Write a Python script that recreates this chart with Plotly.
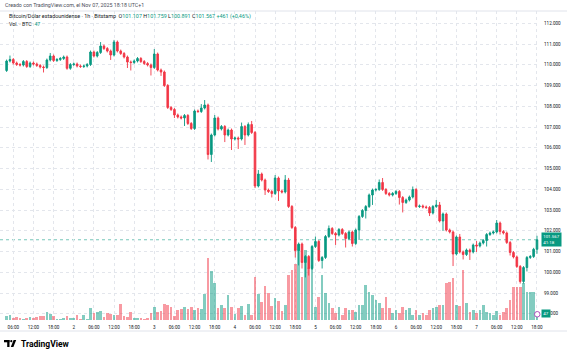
import plotly.graph_objects as go
import pandas as pd

# ---------------- data ----------------
times = pd.date_range("2025-11-01 04:00", periods=159, freq="h")

opens = [
    109725, 110183, 110255, 110086, 110014, 109990, 110159, 109918, 110086, 110038,
    109966, 109894, 109870, 110231, 110424, 110207, 110255, 110303, 110376, 109831,
    110014, 110038, 109942, 109918, 109942, 110014, 110617, 110424, 110593, 110906,
    110785, 110665, 110472, 111099, 110665, 110544, 110376, 110135, 110111, 110183,
    110303, 110159, 110062, 109990, 109870, 110520, 109749, 109653, 109002, 107942,
    107845, 107580, 107484, 107435, 107556, 107170, 106929, 107773, 107749, 107917,
    108062, 105676, 106616, 107435, 106905, 107026, 106616, 106857, 106423, 106471,
    106423, 107026, 106616, 107122, 106737, 104158, 104736, 104447, 103965, 103893,
    103796, 104543, 103917, 103869, 104447, 103170, 102158, 101049, 101362, 100471,
    100760, 100181, 101242, 101483, 100567, 100712, 101724, 102109, 101868, 101796,
    102061, 101868, 101627, 101941, 101386, 102037, 102688, 102977, 103170, 103724,
    103965, 103989, 104327, 103989, 103796, 103724, 103796, 103893, 103604, 103363,
    103483, 103628, 103989, 103170, 103194, 103146, 103122, 102856, 103170, 103242,
    102471, 102808, 102037, 101941, 100880, 101700, 100977, 100856, 101073, 100977,
    101314, 101266, 101410, 101531, 101820, 101892, 101941, 102374, 101965, 101892,
    101434, 100953, 100736, 100278, 99555, 100229, 100712, 100760, 101107,
]
highs = [
    110253, 110445, 110325, 110156, 110084, 110229, 110229, 110156, 110156, 110108,
    110036, 109964, 110301, 110569, 110494, 110325, 110373, 110446, 110446, 110084,
    110108, 110108, 110012, 110012, 110084, 110687, 110687, 110663, 111096, 110976,
    110855, 110735, 111199, 111169, 110735, 110614, 110446, 110205, 110253, 110373,
    110373, 110229, 110132, 110060, 110760, 110590, 109819, 109723, 109072, 108012,
    107915, 107650, 107554, 107626, 107626, 107240, 107843, 107843, 108107, 108302,
    108132, 106686, 107580, 107505, 107096, 107096, 106927, 106927, 106541, 106541,
    107216, 107096, 107222, 107292, 106807, 104926, 104806, 104517, 104035, 103963,
    104688, 104613, 103987, 104687, 104547, 103240, 102228, 101432, 101432, 100830,
    100830, 101312, 101723, 101553, 100782, 101794, 102254, 102179, 101938, 102131,
    102131, 101938, 102011, 102011, 102107, 102758, 103047, 103240, 103794, 104035,
    104059, 104472, 104542, 104059, 103866, 103866, 103963, 103963, 103674, 103553,
    103698, 104134, 104059, 103264, 103264, 103216, 103192, 103240, 103482, 103387,
    102878, 102878, 102107, 102011, 101770, 101845, 101047, 101143, 101143, 101384,
    101504, 101480, 101601, 101890, 101962, 102011, 102519, 102444, 102035, 101962,
    101504, 101023, 100806, 100348, 100299, 100782, 100830, 101177, 101759,
]
lows = [
    109655, 110113, 110016, 109944, 109920, 109920, 109848, 109848, 109968, 109896,
    109824, 109630, 109800, 110161, 110137, 110137, 110185, 110233, 109761, 109761,
    109944, 109872, 109848, 109848, 109872, 109944, 110354, 110354, 110523, 110715,
    110595, 110232, 110402, 110595, 110474, 110306, 109845, 109726, 110041, 110113,
    110089, 109992, 109920, 109485, 109800, 109679, 109463, 108932, 107872, 107775,
    107435, 107414, 107365, 107050, 107100, 106859, 106859, 107679, 107679, 107847,
    105436, 105316, 106546, 106835, 106835, 106276, 106546, 105893, 106353, 105943,
    106353, 106136, 106546, 106667, 104058, 104088, 104377, 103725, 103823, 103606,
    103726, 103437, 103799, 103799, 103100, 102088, 100709, 100329, 100181, 99751,
    99841, 100111, 101172, 100497, 100182, 100642, 101654, 101798, 101316, 101726,
    101798, 101192, 101557, 101241, 101316, 101557, 102618, 102592, 103100, 103244,
    103895, 103919, 103919, 103726, 103654, 103654, 103726, 103264, 102883, 103293,
    103413, 103558, 103100, 103100, 103076, 103052, 102711, 102786, 103100, 102401,
    101991, 101967, 101871, 100300, 100810, 100907, 100616, 100786, 100592, 100907,
    100976, 101196, 101340, 101241, 101750, 101822, 101871, 101820, 101822, 101364,
    100808, 100666, 100208, 99455, 99455, 100039, 100642, 100690, 100891,
]
closes = [
    110183, 110255, 110086, 110014, 109990, 110159, 109918, 110086, 110038, 109966,
    109894, 109870, 110231, 110424, 110207, 110255, 110303, 110376, 109831, 110014,
    110038, 109942, 109918, 109942, 110014, 110617, 110424, 110593, 110906, 110785,
    110665, 110472, 111099, 110665, 110544, 110376, 110135, 110111, 110183, 110303,
    110159, 110062, 109990, 109870, 110520, 109749, 109653, 109002, 107942, 107845,
    107580, 107484, 107435, 107556, 107170, 106929, 107773, 107749, 107917, 108062,
    105676, 106616, 107435, 106905, 107026, 106616, 106857, 106423, 106471, 106423,
    107026, 106616, 107122, 106737, 104158, 104736, 104447, 103965, 103893, 103796,
    104543, 103917, 103869, 104447, 103170, 102158, 101049, 101362, 100471, 100760,
    100181, 101242, 101483, 100567, 100712, 101724, 102109, 101868, 101796, 102061,
    101868, 101627, 101941, 101386, 102037, 102688, 102977, 103170, 103724, 103965,
    103989, 104327, 103989, 103796, 103724, 103796, 103893, 103604, 103363, 103483,
    103628, 103989, 103170, 103194, 103146, 103122, 102856, 103170, 103242, 102471,
    102808, 102037, 101941, 100880, 101700, 100977, 100856, 101073, 100977, 101314,
    101266, 101410, 101531, 101820, 101892, 101941, 102374, 101965, 101892, 101434,
    100953, 100736, 100278, 99555, 100229, 100712, 100760, 101107, 101567,
]
volumes = [
    31, 39, 18, 21, 13, 5, 13, 21, 18, 21,
    31, 31, 65, 47, 34, 5, 8, 13, 31, 18,
    18, 37, 8, 37, 10, 91, 57, 60, 73, 26,
    52, 47, 41, 37, 125, 31, 21, 62, 13, 13,
    16, 10, 16, 57, 104, 62, 73, 125, 117, 99,
    31, 78, 83, 104, 83, 99, 78, 91, 83, 203,
    489, 382, 291, 91, 115, 94, 197, 104, 47, 91,
    109, 41, 122, 39, 333, 203, 143, 265, 213, 109,
    169, 151, 70, 117, 351, 390, 437, 585, 335, 546,
    406, 429, 101, 179, 351, 211, 133, 94, 55, 101,
    39, 94, 78, 78, 62, 117, 117, 273, 218, 195,
    156, 133, 94, 179, 94, 55, 78, 55, 101, 78,
    94, 39, 78, 39, 55, 39, 78, 94, 101, 117,
    117, 289, 296, 328, 117, 109, 390, 133, 62, 78,
    55, 78, 117, 62, 55, 39, 70, 39, 62, 94,
    156, 257, 257, 257, 289, 218, 218, 218, 47,
]

tick_times = [
    "2025-11-01 06:00", "2025-11-01 12:00", "2025-11-01 18:00",
    "2025-11-02 00:00", "2025-11-02 06:00", "2025-11-02 12:00", "2025-11-02 18:00",
    "2025-11-03 00:00", "2025-11-03 06:00", "2025-11-03 12:00", "2025-11-03 18:00",
    "2025-11-04 00:00", "2025-11-04 06:00", "2025-11-04 12:00", "2025-11-04 18:00",
    "2025-11-05 00:00", "2025-11-05 06:00", "2025-11-05 12:00", "2025-11-05 18:00",
    "2025-11-06 00:00", "2025-11-06 06:00", "2025-11-06 12:00", "2025-11-06 18:00",
    "2025-11-07 00:00", "2025-11-07 06:00", "2025-11-07 12:00", "2025-11-07 18:00",
]
tick_labels = [
    "06:00", "12:00", "18:00",
    "2", "06:00", "12:00", "18:00",
    "3", "06:00", "12:00", "18:00",
    "4", "06:00", "12:00", "18:00",
    "5", "06:00", "12:00", "18:00",
    "6", "06:00", "12:00", "18:00",
    "7", "06:00", "12:00", "18:00",
]
price_ticks = [98000, 99000, 100000, 101000, 102000, 103000, 104000, 105000,
               106000, 107000, 108000, 109000, 110000, 111000, 112000]

last_price = 101567
last_volume = 47

# ---------------- styling ----------------
UP = "#089981"
DOWN = "#F23645"
UP_VOL = "rgba(8,153,129,0.5)"
DOWN_VOL = "rgba(242,54,69,0.5)"
TXT = "#131722"
GRID = "#e3e6ec"
FONT = "Roboto, Arial, sans-serif"

W, H = 567, 355
PL, PR, PT, PB = 0, 540, 11, 320  # plot area in pixels


def px(x):
    return (x - PL) / (PR - PL)


def py(y):
    return (PB - y) / (PB - PT)


vol_colors = [UP_VOL if c >= o else DOWN_VOL for o, c in zip(opens, closes)]

fig = go.Figure()
fig.add_trace(go.Bar(
    x=times, y=volumes, yaxis="y2", marker=dict(color=vol_colors, line=dict(width=0)),
    width=0.8 * 3600 * 1000, hoverinfo="skip", showlegend=False,
))
fig.add_trace(go.Candlestick(
    x=times, open=opens, high=highs, low=lows, close=closes,
    increasing=dict(line=dict(color=UP, width=0.9), fillcolor=UP),
    decreasing=dict(line=dict(color=DOWN, width=0.9), fillcolor=DOWN),
    whiskerwidth=0, showlegend=False,
))

annotations = [
    dict(text="Creado con TradingView.com, el Nov 07, 2025 18:18 UTC+1",
         x=px(3), y=py(5.5), xref="paper", yref="paper", xanchor="left", yanchor="middle",
         showarrow=False, font=dict(size=5.3, color="#4a4e59", family=FONT)),
    dict(text=("Bitcoin/Dólar estadounidense · 1h · Bitstamp  "
               "O<span style='color:#089981'>101.107</span> "
               "H<span style='color:#089981'>101.759</span> "
               "L<span style='color:#089981'>100.891</span> "
               "C<span style='color:#089981'>101.567</span> "
               "<span style='color:#089981'>+461 (+0,46%)</span>"),
         x=px(7), y=py(16), xref="paper", yref="paper", xanchor="left", yanchor="middle",
         showarrow=False, font=dict(size=5.4, color=TXT, family=FONT)),
    dict(text="Vol. · BTC  <span style='color:#089981'>47</span>",
         x=px(7), y=py(24.5), xref="paper", yref="paper", xanchor="left", yanchor="middle",
         showarrow=False, font=dict(size=5.3, color=TXT, family=FONT)),
    dict(text="101.567<br>41:18", x=1, y=last_price, xref="paper", yref="y",
         xanchor="left", yanchor="middle", xshift=1, showarrow=False, align="left",
         bgcolor=UP, borderpad=1.2, font=dict(size=4.4, color="white", family=FONT)),
    dict(text="47", x=1, y=last_volume, xref="paper", yref="y2",
         xanchor="left", yanchor="middle", xshift=1, showarrow=False,
         bgcolor=UP, borderpad=1.2, font=dict(size=4.4, color="white", family=FONT)),
    dict(text="<b>TradingView</b>", x=px(19), y=py(344), xref="paper", yref="paper",
         xanchor="left", yanchor="middle", showarrow=False,
         font=dict(size=8.5, color="#000000", family=FONT)),
]

shapes = [
    # last price line
    dict(type="line", xref="paper", yref="y", x0=0, x1=1, y0=last_price, y1=last_price,
         line=dict(color="rgba(8,153,129,0.55)", width=1, dash="dot"), layer="below"),
    # top and bottom separators
    dict(type="line", xref="paper", yref="paper", x0=0, x1=px(W), y0=py(11), y1=py(11),
         line=dict(color="#e0e3eb", width=1)),
    dict(type="line", xref="paper", yref="paper", x0=0, x1=px(W), y0=py(331), y1=py(331),
         line=dict(color="#e0e3eb", width=1)),
    # purple marker near volume label
    dict(type="circle", xref="paper", yref="paper", x0=px(534.5), x1=px(540), y0=py(311.5), y1=py(317),
         line=dict(color="#9c27b0", width=0.8), fillcolor="white"),
    # logo
    dict(type="rect", xref="paper", yref="paper", x0=px(4), x1=px(9.5), y0=py(340), y1=py(342.3),
         fillcolor="#000", line=dict(width=0)),
    dict(type="rect", xref="paper", yref="paper", x0=px(7.2), x1=px(9.5), y0=py(340), y1=py(347),
         fillcolor="#000", line=dict(width=0)),
    dict(type="circle", xref="paper", yref="paper", x0=px(10.2), x1=px(12.4), y0=py(340), y1=py(342.3),
         fillcolor="#000", line=dict(width=0)),
    dict(type="path", xref="paper", yref="paper",
         path=f"M {px(13.6)} {py(340)} L {px(16.2)} {py(340)} L {px(13.4)} {py(347)} L {px(10.8)} {py(347)} Z",
         fillcolor="#000", line=dict(width=0)),
]

fig.update_layout(
    width=W, height=H, autosize=False,
    margin=dict(l=PL, r=W - PR, t=PT, b=H - PB, pad=0),
    paper_bgcolor="white", plot_bgcolor="white",
    separators=",.",
    font=dict(family=FONT, color=TXT, size=4.6),
    showlegend=False,
    boxgap=0.3,
    bargap=0,
    annotations=annotations,
    shapes=shapes,
    xaxis=dict(
        type="date", range=["2025-11-01 02:02", "2025-11-07 18:54"],
        tickvals=tick_times, ticktext=tick_labels, tickangle=0,
        showgrid=True, gridcolor=GRID, griddash="dot", gridwidth=1,
        zeroline=False, showline=False, ticks="", ticklabelstandoff=3,
        tickfont=dict(size=4.6, color=TXT), rangeslider=dict(visible=False),
        fixedrange=True,
    ),
    yaxis=dict(
        side="right", range=[97699, 112593], tickvals=price_ticks, tickformat=",.0f",
        showgrid=True, gridcolor=GRID, griddash="dot", gridwidth=1,
        zeroline=False, showline=False, ticks="", ticklabelstandoff=3,
        tickfont=dict(size=4.6, color=TXT), fixedrange=True,
    ),
    yaxis2=dict(overlaying="y", range=[0, 2418], visible=False, fixedrange=True),
)

fig.write_html("out.html", post_script="document.body.style.margin='0';",
               config={"displayModeBar": False})
